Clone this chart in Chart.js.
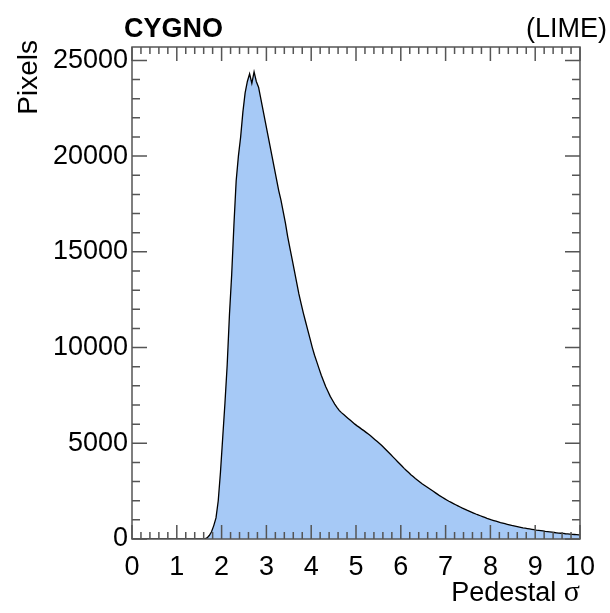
<!DOCTYPE html>
<html>
<head>
<meta charset="utf-8">
<script src="https://cdn.jsdelivr.net/npm/chart.js@4/dist/chart.umd.min.js"></script>
<style>
  html, body { margin: 0; background: #fff; }
</style>
</head>
<body>
<canvas id="c" width="610" height="613"></canvas>
<script>
/* Pedestal sigma distribution of LIME pixels, redrawn as a ROOT-style histogram. */

const BIN_WIDTH = 0.05;          // sigma units per bin, 200 bins over 0..10
const X_TICKS = [0, 1, 2, 3, 4, 5, 6, 7, 8, 9, 10];
const Y_TICKS = [0, 5000, 10000, 15000, 20000, 25000];
const Y_MAX = 25700;

// pixels per bin, bin 0 starts at sigma = 0
const ZERO_BINS = new Array(32).fill(0); // 0.00 .. 1.55
const COUNTS = ZERO_BINS.concat([
  10, 60, 180, 380, 700, 1100, 2000, 3500,                 // 1.60 .. 1.95
  5300, 7100, 9100, 11700, 13800, 16400, 18700, 20000,     // 2.00 .. 2.35
  21000, 22300, 23300, 23900, 24300, 23800, 24400, 23900,  // 2.40 .. 2.75
  23600, 23000, 22400, 21800,                              // 2.80 .. 2.95
  21200, 20600, 20000, 19400, 18800, 18200, 17700, 17100,  // 3.00 .. 3.35
  16500, 15800, 15200, 14600, 14000, 13400, 12800, 12300,  // 3.40 .. 3.75
  11800, 11350, 10900, 10450,                              // 3.80 .. 3.95
  10000, 9600, 9250, 8900, 8550, 8250, 7950, 7700,         // 4.00 .. 4.35
  7450, 7250, 7050, 6880, 6720, 6600, 6500, 6400,          // 4.40 .. 4.75
  6300, 6200, 6100, 6000,                                  // 4.80 .. 4.95
  5910, 5830, 5740, 5660, 5570, 5480, 5390, 5290,          // 5.00 .. 5.35
  5190, 5090, 4990, 4880, 4770, 4650, 4530, 4410,          // 5.40 .. 5.75
  4290, 4170, 4050, 3930,                                  // 5.80 .. 5.95
  3810, 3690, 3580, 3470, 3360, 3260, 3160, 3070,          // 6.00 .. 6.35
  2980, 2890, 2810, 2730, 2650, 2570, 2490, 2410,          // 6.40 .. 6.75
  2330, 2250, 2180, 2110,                                  // 6.80 .. 6.95
  2040, 1970, 1910, 1850, 1790, 1730, 1670, 1610,          // 7.00 .. 7.35
  1560, 1505, 1455, 1405, 1355, 1305, 1260, 1215,          // 7.40 .. 7.75
  1170, 1125, 1080, 1040,                                  // 7.80 .. 7.95
  1000, 965, 930, 895, 860, 830, 800, 770,                 // 8.00 .. 8.35
  740, 710, 685, 660, 635, 610, 585, 565,                  // 8.40 .. 8.75
  545, 525, 505, 485,                                      // 8.80 .. 8.95
  465, 450, 435, 420, 400, 385, 370, 355,                  // 9.00 .. 9.35
  340, 325, 310, 300, 290, 275, 265, 255,                  // 9.40 .. 9.75
  245, 235, 225, 215                                       // 9.80 .. 9.95
]);

const TEXT = {
  experiment: "CYGNO",
  detector: "(LIME)",
  yTitle: "Pixels",
  xTitle: "Pedestal ",
  xSymbol: "\u03C3",
};

const FILL = "#a6c9f6";
const FRAME = "#555555";
const SANS = "'Liberation Sans', Arial, Helvetica, sans-serif";
const SERIF = "'Liberation Serif', 'Times New Roman', serif";

// bins are fine enough that ROOT's outline reads as a curve: join bin centres,
// and close on the upper edge of the last bin
const points = COUNTS.map((v, i) => ({ x: (i + 0.5) * BIN_WIDTH, y: v }));
points.unshift({ x: 0, y: COUNTS[0] });
points.push({ x: COUNTS.length * BIN_WIDTH, y: COUNTS[COUNTS.length - 1] });

/* ROOT-like frame with inward major/minor ticks on all four sides. */
const rootFrame = {
  id: "rootFrame",
  afterDatasetsDraw(chart) {
    const { ctx, chartArea: a, scales: { x, y } } = chart;
    ctx.save();
    ctx.strokeStyle = FRAME;
    ctx.lineWidth = 1.5;
    ctx.beginPath();
    for (let i = 0; i <= 50; i++) {
      const px = x.getPixelForValue(i * 0.2);
      const len = i % 5 === 0 ? 14 : 7;
      ctx.moveTo(px, a.bottom); ctx.lineTo(px, a.bottom - len);
      ctx.moveTo(px, a.top); ctx.lineTo(px, a.top + len);
    }
    for (let i = 0; i * 1000 <= Y_MAX; i++) {
      const py = y.getPixelForValue(i * 1000);
      const len = i % 5 === 0 ? 15 : 8;
      ctx.moveTo(a.left, py); ctx.lineTo(a.left + len, py);
      ctx.moveTo(a.right, py); ctx.lineTo(a.right - len, py);
    }
    ctx.stroke();
    ctx.strokeRect(a.left, a.top, a.right - a.left, a.bottom - a.top);
    ctx.restore();
  },
  afterDraw(chart) {
    const { ctx, chartArea: a } = chart;
    ctx.save();
    ctx.fillStyle = "#000";
    ctx.textBaseline = "alphabetic";

    ctx.font = `bold 27px ${SANS}`;
    ctx.textAlign = "left";
    ctx.fillText(TEXT.experiment, 124, 37);

    ctx.font = `27px ${SANS}`;
    ctx.textAlign = "right";
    ctx.fillText(TEXT.detector, 607, 37);

    // x title: sans text followed by a serif sigma, right aligned to the frame
    ctx.font = `30px ${SERIF}`;
    const wSym = ctx.measureText(TEXT.xSymbol).width;
    ctx.fillText(TEXT.xSymbol, a.right, 601);
    ctx.font = `27px ${SANS}`;
    ctx.fillText(TEXT.xTitle, a.right - wSym, 601);

    ctx.font = `28px ${SANS}`;
    ctx.translate(37, 40);
    ctx.rotate(-Math.PI / 2);
    ctx.textAlign = "right";
    ctx.fillText(TEXT.yTitle, 0, 0);
    ctx.restore();
  },
};

new Chart(document.getElementById("c"), {
  type: "line",
  data: {
    datasets: [{
      data: points,
      borderColor: "#000",
      borderWidth: 1.3,
      backgroundColor: FILL,
      fill: "origin",
      pointRadius: 0,
      tension: 0,
    }],
  },
  options: {
    responsive: false,
    devicePixelRatio: 1,
    animation: false,
    layout: { padding: { left: 0, right: 30, top: 47, bottom: 0 } },
    plugins: { legend: { display: false }, tooltip: { enabled: false } },
    scales: {
      x: {
        type: "linear",
        min: 0,
        max: 10,
        afterBuildTicks: (s) => { s.ticks = X_TICKS.map((v) => ({ value: v })); },
        afterFit: (s) => { s.height = 74; },
        grid: { display: false, drawTicks: false },
        border: { display: false },
        ticks: {
          color: "#000",
          padding: 12,
          maxRotation: 0,
          autoSkip: false,
          font: { family: SANS, size: 27 },
          callback: (v) => String(v),
        },
      },
      y: {
        min: 0,
        max: Y_MAX,
        afterBuildTicks: (s) => { s.ticks = Y_TICKS.map((v) => ({ value: v })); },
        afterFit: (s) => { s.width = 132; },
        grid: { display: false, drawTicks: false },
        border: { display: false },
        ticks: {
          color: "#000",
          padding: 4,
          autoSkip: false,
          font: { family: SANS, size: 27 },
          callback: (v) => String(v),
        },
      },
    },
  },
  plugins: [rootFrame],
});
</script>
</body>
</html>
